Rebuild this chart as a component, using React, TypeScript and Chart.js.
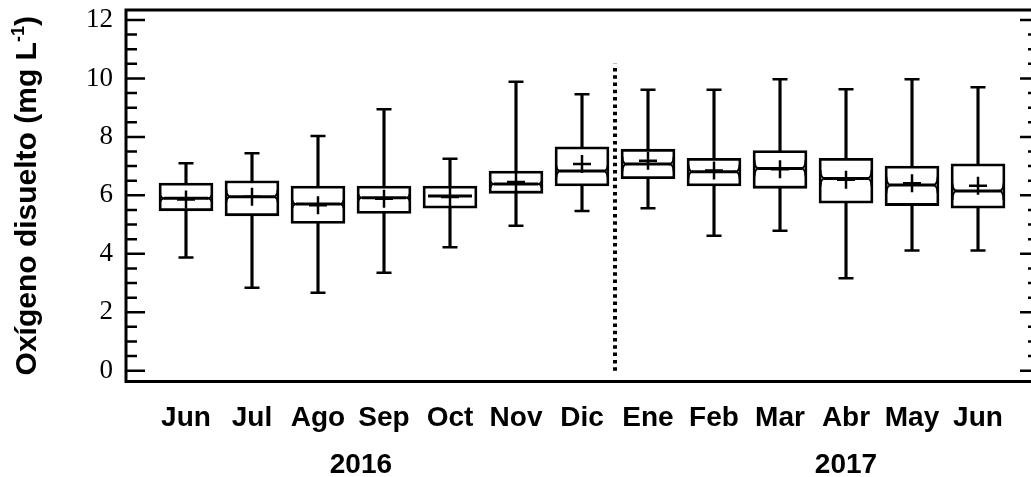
import React, { useEffect, useRef } from 'react';
import { Chart, registerables } from 'chart.js';

Chart.register(...registerables);

// ---- data ----
const months = ['Jun', 'Jul', 'Ago', 'Sep', 'Oct', 'Nov', 'Dic', 'Ene', 'Feb', 'Mar', 'Abr', 'May', 'Jun'];
const whiskerLow = [3.87, 2.84, 2.67, 3.35, 4.22, 4.96, 5.46, 5.56, 4.62, 4.79, 3.16, 4.11, 4.11];
const q1 = [5.47, 5.30, 5.04, 5.38, 5.56, 6.07, 6.32, 6.57, 6.32, 6.24, 5.73, 5.65, 5.56];
const medians = [5.90, 5.95, 5.70, 5.92, 5.98, 6.39, 6.83, 7.07, 6.81, 6.92, 6.58, 6.35, 6.15];
const q3 = [6.42, 6.50, 6.32, 6.32, 6.32, 6.83, 7.66, 7.58, 7.27, 7.53, 7.27, 7.00, 7.08];
const whiskerHigh = [7.10, 7.44, 8.03, 8.95, 7.25, 9.89, 9.46, 9.61, 9.61, 9.97, 9.63, 9.97, 9.70];
const means = [5.86, 5.95, 5.66, 5.88, 5.94, 6.46, 7.07, 7.18, 6.85, 6.89, 6.53, 6.41, 6.33];
const notchHigh = [6.02, 6.18, 5.84, 6.05, 5.98, 6.50, 7.02, 7.32, 7.05, 7.21, 6.87, 6.64, 6.41];
const notchLow = [5.78, 5.78, 5.56, 5.80, 5.98, 6.24, 6.62, 6.82, 6.57, 6.64, 6.30, 6.07, 5.84];
const yTicks = [0, 2, 4, 6, 8, 10, 12];
const yMinorStep = 0.5;
const years = ['2016', '2017'];
const yearCenters = [2.65, 10.0];
const separatorX = 6.5;
const separatorSpan = [0, 10.5];

const titleMain = 'Oxígeno disuelto (mg L';
const titleSup = '-1';
const titleEnd = ')';

const SANS = '"Liberation Sans", Arial, Helvetica, sans-serif';
const SERIF = '"Liberation Serif", "Times New Roman", serif';

const idx = months.map((_, i) => i);

const decorPlugin = {
  id: 'decor',
  afterDatasetsDraw(chart: any) {
    const { ctx, chartArea: a, scales } = chart;
    const x = scales.x;
    const y = scales.y;
    ctx.save();
    ctx.beginPath();
    ctx.rect(a.left, a.top, a.right - a.left, a.bottom - a.top);
    ctx.clip();
    ctx.strokeStyle = '#000';
    ctx.lineWidth = 1.8;
    idx.forEach((i) => {
      if (notchHigh[i] === notchLow[i]) return;
      const xc = x.getPixelForValue(i);
      const yTop = y.getPixelForValue(q3[i]);
      const yBot = y.getPixelForValue(q1[i]);
      const ym = y.getPixelForValue(medians[i]);
      const yh = y.getPixelForValue(notchHigh[i]);
      const yl = y.getPixelForValue(notchLow[i]);
      const half = 25.5;
      const ind = 5;
      ctx.save();
      ctx.beginPath();
      ctx.rect(xc - half, yTop, half * 2, yBot - yTop);
      ctx.clip();
      ctx.beginPath();
      [[-1, xc - half], [1, xc + half]].forEach(([s, xe]) => {
        ctx.moveTo(xe, yh);
        ctx.quadraticCurveTo(xe, ym, xe - s * ind, ym);
        ctx.moveTo(xe, yl);
        ctx.quadraticCurveTo(xe, ym, xe - s * ind, ym);
      });
      ctx.stroke();
      ctx.restore();
    });
    ctx.restore();
  },
  afterDraw(chart: any) {
    const { ctx, chartArea: a, scales } = chart;
    const x = scales.x;
    const y = scales.y;
    ctx.save();
    ctx.strokeStyle = '#000';
    ctx.fillStyle = '#000';
    // inward ticks, left and right
    ctx.lineWidth = 2.5;
    const ymin = yTicks[0];
    const ymax = yTicks[yTicks.length - 1];
    for (let v = ymin; v <= ymax + 1e-9; v += yMinorStep) {
      const py = y.getPixelForValue(v);
      const major = yTicks.some((t) => Math.abs(t - v) < 1e-9);
      const len = major ? 19 : 11;
      ctx.beginPath();
      ctx.moveTo(a.left, py);
      ctx.lineTo(a.left + len, py);
      ctx.moveTo(a.right, py);
      ctx.lineTo(a.right - len, py);
      ctx.stroke();
    }
    // frame
    ctx.lineWidth = 3;
    ctx.strokeRect(a.left, a.top, a.right - a.left, a.bottom - a.top);

    // year labels
    ctx.font = `bold 28px ${SANS}`;
    ctx.textAlign = 'center';
    ctx.textBaseline = 'middle';
    years.forEach((yr, i) => {
      ctx.fillText(yr, x.getPixelForValue(yearCenters[i]), 465);
    });

    // y title with superscript
    ctx.translate(28, (a.top + a.bottom) / 2);
    ctx.rotate(-Math.PI / 2);
    const mainFont = `bold 30px ${SANS}`;
    const supFont = `bold 18px ${SANS}`;
    ctx.font = mainFont;
    const w1 = ctx.measureText(titleMain).width;
    const w3 = ctx.measureText(titleEnd).width;
    ctx.font = supFont;
    const w2 = ctx.measureText(titleSup).width;
    const total = w1 + w2 + w3;
    let cx = -total / 2;
    ctx.textAlign = 'left';
    ctx.textBaseline = 'middle';
    ctx.font = mainFont;
    ctx.fillText(titleMain, cx, 0);
    cx += w1;
    ctx.font = supFont;
    ctx.fillText(titleSup, cx, -9);
    cx += w2;
    ctx.font = mainFont;
    ctx.fillText(titleEnd, cx, 0);
    ctx.restore();
  },
};

export default function App() {
  const ref = useRef<HTMLCanvasElement | null>(null);

  useEffect(() => {
    if (!ref.current) return;
    const pt = (arr: number[]) => arr.map((v, i) => ({ x: i, y: v }));
    const chart = new Chart(ref.current, {
      type: 'bar',
      data: {
        datasets: [
          {
            type: 'scatter',
            label: 'mean',
            order: 0,
            data: pt(means),
            pointStyle: 'cross',
            pointRadius: 9,
            pointBorderWidth: 2.5,
            pointBorderColor: '#000',
            pointBackgroundColor: '#000',
            showLine: false,
          } as any,
          {
            type: 'scatter',
            label: 'median',
            order: 1,
            data: pt(medians),
            pointStyle: 'line',
            pointRadius: 22,
            pointBorderWidth: 3,
            pointBorderColor: '#000',
            showLine: false,
          } as any,
          {
            type: 'scatter',
            label: 'caps',
            order: 2,
            data: [...pt(whiskerLow), ...pt(whiskerHigh)],
            pointStyle: 'line',
            pointRadius: 7.5,
            pointBorderWidth: 2.5,
            pointBorderColor: '#000',
            showLine: false,
          } as any,
          {
            type: 'bar',
            label: 'box',
            order: 3,
            data: idx.map((i) => ({ x: i, y: [q1[i], q3[i]] })),
            backgroundColor: '#fff',
            borderColor: '#000',
            borderWidth: 2.8,
            borderSkipped: false,
            barThickness: 54,
            grouped: false,
          } as any,
          {
            type: 'bar',
            label: 'whisker',
            order: 4,
            data: idx.map((i) => ({ x: i, y: [whiskerLow[i], whiskerHigh[i]] })),
            backgroundColor: '#000',
            borderWidth: 0,
            barThickness: 2.5,
            grouped: false,
          } as any,
          {
            type: 'line',
            label: 'separator',
            order: 5,
            data: separatorSpan.map((v) => ({ x: separatorX, y: v })),
            borderColor: '#000',
            borderWidth: 4,
            borderDash: [3.5, 3.8],
            pointRadius: 0,
            fill: false,
          } as any,
        ],
      },
      options: {
        animation: false,
        responsive: false,
        devicePixelRatio: 1,
        layout: { autoPadding: false, padding: { top: 10, right: 21, left: 0, bottom: 0 } },
        plugins: { legend: { display: false }, tooltip: { enabled: false } },
        scales: {
          x: {
            type: 'linear',
            min: -0.909,
            max: 12.924,
            offset: false,
            grid: { display: false },
            border: { display: false },
            afterBuildTicks: (s: any) => {
              s.ticks = idx.map((v) => ({ value: v }));
            },
            afterFit: (s: any) => {
              s.height = 95.5;
              s.paddingLeft = 0;
              s.paddingRight = 0;
            },
            ticks: {
              autoSkip: false,
              maxRotation: 0,
              minRotation: 0,
              padding: 12,
              color: '#000',
              font: { family: SANS, size: 28, weight: 'bold' },
              callback: (v: any) => months[Math.round(Number(v))] ?? '',
            },
          },
          y: {
            type: 'linear',
            min: -0.37,
            max: 12.342,
            grid: { display: false, drawTicks: false },
            border: { display: false },
            afterBuildTicks: (s: any) => {
              s.ticks = yTicks.map((v) => ({ value: v }));
            },
            afterFit: (s: any) => {
              s.width = 126;
              s.paddingTop = 0;
              s.paddingBottom = 0;
            },
            ticks: {
              padding: 13,
              color: '#000',
              font: { family: SERIF, size: 27 },
              callback: (v: any) => String(v),
            },
          },
        },
      } as any,
      plugins: [decorPlugin],
    });
    return () => chart.destroy();
  }, []);

  return (
    <div
      style={{
        position: 'fixed',
        left: 0,
        top: 0,
        width: 1031,
        height: 477,
        overflow: 'hidden',
        background: '#fff',
      }}
    >
      <canvas ref={ref} width={1060} height={477} style={{ display: 'block' }} />
    </div>
  );
}
